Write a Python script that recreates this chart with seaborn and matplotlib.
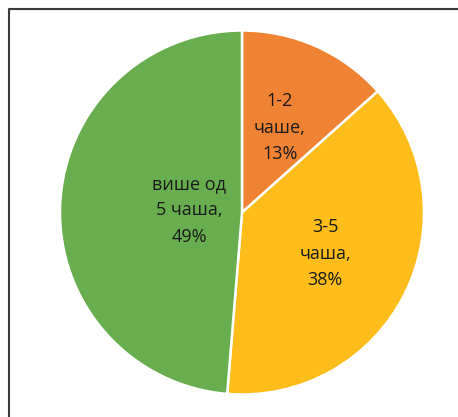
import matplotlib
matplotlib.use('Agg')
import matplotlib.pyplot as plt
import seaborn as sns
import numpy as np
from matplotlib.lines import Line2D

# Data (shares, labels show rounded values)
categories = ['1-2\nчаше', '3-5\nчаша', 'више од\n5 чаша']
shares = [13.4, 37.9, 48.7]
colors = ['#F08233', '#FEBD1A', '#68AE4F']
# how far from the centre each label sits (fraction of radius)
label_dist = [0.51, 0.51, 0.29]

sns.set_style('white')
plt.rcParams['font.family'] = ['Open Sans', 'DejaVu Sans']

W, H = 458, 417
fig = plt.figure(figsize=(W / 100, H / 100), dpi=100)
ax = fig.add_axes([0, 0, 1, 1])

# pie centre / radius in pixels
cx, cy, R = 242.0, 212.5, 182.0

wedges, _ = ax.pie(shares, colors=colors, startangle=90, counterclock=False,
                   radius=1.0, wedgeprops=dict(edgecolor='white', linewidth=1.8))

for w, cat, val, d in zip(wedges, categories, shares, label_dist):
    ang = np.deg2rad((w.theta1 + w.theta2) / 2)
    ax.text(d * np.cos(ang), d * np.sin(ang), f'{cat},\n{round(val)}%',
            ha='center', va='center', fontsize=13, color='#1a1a1a',
            linespacing=1.6)

ax.set_aspect('auto')
ax.set_xlim(-cx / R, (W - cx) / R)
ax.set_ylim(-(H - cy) / R, cy / R)
ax.axis('off')

# chart frame (left and top edges visible)
fig.add_artist(Line2D([8.5 / W, 8.5 / W, 1.0], [0.0, 1 - 8.5 / H, 1 - 8.5 / H],
                      transform=fig.transFigure, color='#3a3a3a', linewidth=1.5))

fig.savefig('out.png', dpi=100)
